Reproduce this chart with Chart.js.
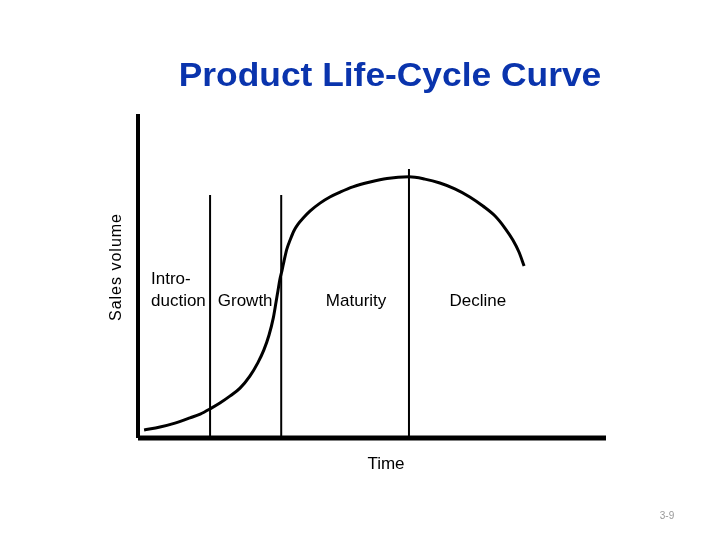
<!DOCTYPE html>
<html>
<head>
<meta charset="utf-8">
<script src="https://cdn.jsdelivr.net/npm/chart.js@4.4.0/dist/chart.umd.min.js"></script>
<style>
html, body { margin: 0; padding: 0; background: #fff; }
#wrap { width: 720px; height: 540px; }
</style>
</head>
<body>
<div id="wrap"><canvas id="plc" width="720" height="540"></canvas></div>
<script>
// time (x) and sales volume (y), both on a 0..100 scale
const curveTime = [1.3, 4.7, 7.9, 11.1, 13.3, 15.4, 17.5, 19.7, 21.8, 23.9, 25.6, 26.9, 28.0, 28.9, 29.5, 29.9, 30.3, 30.8, 31.2, 31.8, 32.5, 33.3, 34.2, 35.3, 36.8, 38.9, 41.0, 43.2, 45.9, 49.6, 53.2, 57.9, 61.3, 64.5, 67.7, 70.9, 73.7, 76.3, 78.4, 80.1, 81.4, 82.5];
const curveSales = [2.5, 3.4, 4.6, 6.2, 7.4, 9.0, 10.8, 13.0, 15.4, 19.1, 23.2, 27.2, 31.8, 37.0, 42.0, 45.4, 48.8, 51.9, 54.6, 58.3, 61.1, 63.9, 66.0, 67.9, 70.1, 72.5, 74.4, 75.9, 77.5, 79.0, 80.1, 80.6, 79.9, 78.7, 76.9, 74.4, 71.6, 68.5, 64.8, 61.1, 57.4, 53.1];
const stageBounds = [15.4, 30.6, 57.9];
const stageTops = [75, 75, 83];
const stageNames = [['Intro-', 'duction'], ['Growth'], ['Maturity'], ['Decline']];

const FONT = '"Liberation Sans", Arial, sans-serif';

const curvePts = curveTime.map((t, i) => ({ x: t, y: curveSales[i] }));

const datasets = [];
// axes
datasets.push({ data: [{ x: 0, y: 100 }, { x: 0, y: 0 }], borderColor: '#000', borderWidth: 4, tension: 0, clip: false });
datasets.push({ data: [{ x: 0, y: 0 }, { x: 100, y: 0 }], borderColor: '#000', borderWidth: 5, tension: 0, clip: false });
// stage dividers
stageBounds.forEach((b, i) => {
    datasets.push({ data: [{ x: b, y: 0 }, { x: b, y: stageTops[i] }], borderColor: '#000', borderWidth: 2, tension: 0, clip: false });
});
// the curve
datasets.push({
    data: curvePts,
    borderColor: '#000',
    borderWidth: 3,
    cubicInterpolationMode: 'monotone',
    borderCapStyle: 'butt',
    clip: false
});

// text placement
const labelX = [null, 22.9, 46.6, 72.6];

const textPlugin = {
    id: 'texts',
    afterDraw(chart) {
        const ctx = chart.ctx;
        const xs = chart.scales.x;
        ctx.save();
        // title, a bit wider than the plain font
        ctx.save();
        ctx.translate(390, 86);
        ctx.scale(1.04, 1);
        ctx.fillStyle = '#0a34ad';
        ctx.font = 'bold 34px ' + FONT;
        ctx.textAlign = 'center';
        ctx.textBaseline = 'alphabetic';
        ctx.fillText('Product Life-Cycle Curve', 0, 0);
        ctx.restore();

        ctx.fillStyle = '#000';
        ctx.font = '17px ' + FONT;
        // intro label, left aligned
        ctx.textAlign = 'left';
        ctx.fillText(stageNames[0][0], 151, 284);
        ctx.fillText(stageNames[0][1], 151, 306);
        ctx.textAlign = 'center';
        for (let i = 1; i < stageNames.length; i++) {
            ctx.fillText(stageNames[i][0], xs.getPixelForValue(labelX[i]), 306);
        }

        ctx.fillText('Time', 386, 469);

        ctx.save();
        ctx.translate(121, 267);
        ctx.rotate(-Math.PI / 2);
        ctx.font = '16px ' + FONT;
        ctx.letterSpacing = '1px';
        ctx.textAlign = 'center';
        ctx.fillText('Sales volume', 0, 0);
        ctx.restore();

        ctx.fillStyle = '#999';
        ctx.font = '10px ' + FONT;
        ctx.textAlign = 'center';
        ctx.fillText('3-9', 667, 519);
        ctx.restore();
    }
};

new Chart(document.getElementById('plc'), {
    type: 'line',
    data: { datasets: datasets },
    options: {
        responsive: false,
        animation: false,
        layout: { padding: { left: 138, right: 114, top: 114, bottom: 102 } },
        elements: { point: { radius: 0 } },
        scales: {
            x: { type: 'linear', min: 0, max: 100, display: false },
            y: { type: 'linear', min: 0, max: 100, display: false }
        },
        plugins: { legend: { display: false }, tooltip: { enabled: false } }
    },
    plugins: [textPlugin]
});
</script>
</body>
</html>
